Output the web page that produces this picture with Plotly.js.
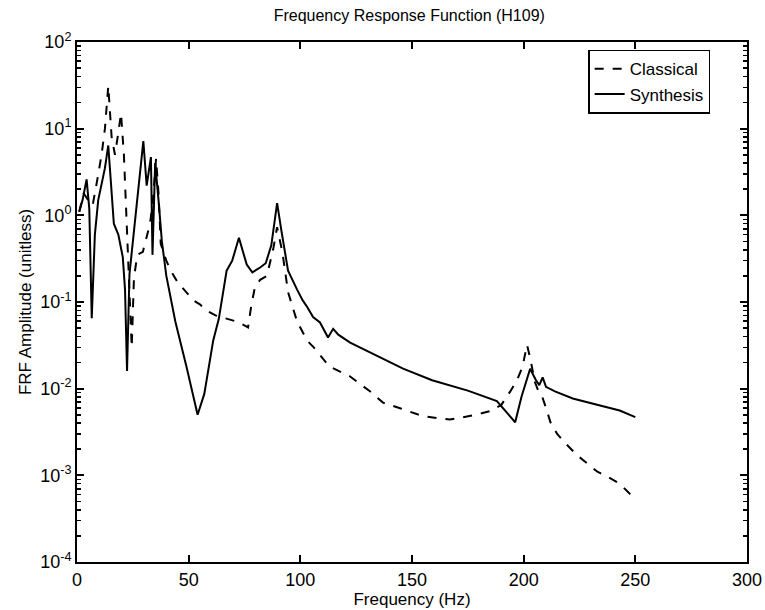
<!DOCTYPE html>
<html>
<head>
<meta charset="utf-8">
<script src="https://cdn.plot.ly/plotly-3.0.1.min.js"></script>
<style>html,body{margin:0;padding:0;background:#fff;}#chart{width:765px;height:610px;}</style>
</head>
<body>
<div id="chart"></div>
<script>
// Classical (dashed)
const classicalX = [1, 3, 5, 7, 9, 11, 12.5, 14, 15.5, 17, 18.5, 19.7, 21, 22, 23, 24.5, 25.5, 27, 29.5, 31.5, 32.7, 34, 35.4, 36.5, 37.5, 40, 42, 45, 48, 52, 55, 58, 62, 67, 72, 76.6, 78, 79.7, 82, 85, 87.8, 89.6, 92, 94.5, 98.5, 103, 106, 113, 122, 131, 137, 145, 155, 167, 177, 185, 190, 194, 197, 199.5, 201.5, 203, 205, 206.5, 208, 210, 212, 215, 219, 224, 228, 233, 237, 243, 250];
const classicalY = [1.1, 1.8, 1.5, 1.3, 2.5, 5, 10, 31, 8, 5, 9, 15, 5, 1.2, 0.2, 0.03, 0.19, 0.35, 0.38, 0.6, 0.8, 1.5, 4.5, 1.8, 0.47, 0.3, 0.23, 0.17, 0.14, 0.105, 0.094, 0.08, 0.07, 0.064, 0.059, 0.051, 0.09, 0.15, 0.18, 0.2, 0.4, 0.73, 0.37, 0.13, 0.06, 0.036, 0.03, 0.018, 0.014, 0.0094, 0.0069, 0.0059, 0.0048, 0.0044, 0.0049, 0.0055, 0.0065, 0.0093, 0.0125, 0.018, 0.032, 0.022, 0.012, 0.0095, 0.0085, 0.006, 0.0041, 0.003, 0.0023, 0.0017, 0.0014, 0.0011, 0.00098, 0.0008, 0.00053];

// Synthesis (solid)
const synthesisX = [1, 2.5, 4.3, 5.5, 6.6, 8, 9.5, 11, 12.5, 14, 15.5, 16.5, 18.5, 20.5, 21.5, 22.4, 23.5, 25, 26.5, 28, 29.7, 31.2, 33.1, 33.8, 35, 36.5, 38, 40, 44, 49, 54, 57, 61, 63.5, 67, 69.5, 72.5, 76, 78.5, 82, 84.5, 87, 89.6, 91.5, 94.5, 98.5, 101, 103, 105.7, 108.8, 112.4, 114.7, 117, 122.3, 131.2, 137, 146, 159, 175, 188, 192.6, 196.2, 199, 202.9, 205.5, 207, 208.5, 210, 214, 222, 232, 243, 250];
const synthesisY = [1.1, 1.5, 2.6, 1.2, 0.065, 0.6, 1.5, 2.2, 3.5, 6.4, 2, 0.8, 0.6, 0.33, 0.14, 0.016, 0.21, 0.5, 1.1, 2.5, 7.2, 2.2, 4.7, 0.35, 4, 1.5, 0.5, 0.2, 0.06, 0.018, 0.005, 0.0087, 0.036, 0.064, 0.23, 0.3, 0.55, 0.27, 0.22, 0.25, 0.28, 0.45, 1.38, 0.67, 0.23, 0.14, 0.105, 0.088, 0.067, 0.058, 0.039, 0.049, 0.042, 0.034, 0.026, 0.022, 0.017, 0.0125, 0.0095, 0.0072, 0.0053, 0.0041, 0.008, 0.017, 0.0125, 0.011, 0.0135, 0.0105, 0.0093, 0.0077, 0.0066, 0.0056, 0.0047];

const xTicks = [0, 50, 100, 150, 200, 250, 300];
const yExponents = [-4, -3, -2, -1, 0, 1, 2];
const yTickVals = yExponents.map(function (e) { return Math.pow(10, e); });
const yTickText = yExponents.map(function (e) { return '10<sup>' + e + '</sup>'; });

// minor log tick positions (2..9 within each decade)
const yMinor = [];
yExponents.slice(0, -1).forEach(function (d) {
  for (let m = 2; m <= 9; m++) yMinor.push(m * Math.pow(10, d));
});

const font = {family: 'Arial, "Liberation Sans", Helvetica, sans-serif', color: '#000'};

const traces = [
  {x: classicalX, y: classicalY, type: 'scatter', mode: 'lines', name: 'Classical',
   line: {color: '#000', width: 2, dash: 'dash'}, yaxis: 'y2'},
  {x: synthesisX, y: synthesisY, type: 'scatter', mode: 'lines', name: 'Synthesis',
   line: {color: '#000', width: 2}}
];

const layout = {
  width: 765, height: 610,
  margin: {l: 77, r: 18, t: 42, b: 48, autoexpand: false},
  paper_bgcolor: '#fff', plot_bgcolor: 'rgba(0,0,0,0)',
  font: Object.assign({size: 16}, font),
  title: {text: 'Frequency Response Function (H109)', x: 0.535, xanchor: 'center', y: 0.975, yanchor: 'middle',
          font: Object.assign({size: 16}, font)},
  xaxis: {
    range: [0, 300], tickmode: 'array', tickvals: xTicks, ticktext: xTicks.map(String),
    ticks: 'inside', ticklen: 7, tickwidth: 2, tickcolor: '#000',
    showline: true, linecolor: '#000', linewidth: 2, mirror: 'ticks',
    showgrid: false, zeroline: false, layer: 'above traces',
    tickfont: Object.assign({size: 18}, font),
    title: {text: 'Frequency (Hz)', standoff: 2, font: Object.assign({size: 17}, font)}
  },
  yaxis: {
    type: 'log', range: [-4, 2], tickmode: 'array', tickvals: yTickVals, ticktext: yTickText,
    ticks: 'inside', ticklen: 7, tickwidth: 2, tickcolor: '#000',
    showline: true, linecolor: '#000', linewidth: 2, mirror: 'ticks',
    showgrid: false, zeroline: false, layer: 'above traces',
    tickfont: Object.assign({size: 18}, font),
    title: {text: 'FRF Amplitude (unitless)', standoff: 4, font: Object.assign({size: 17}, font)}
  },
  yaxis2: {
    type: 'log', range: [-4, 2], overlaying: 'y', side: 'left', anchor: 'x',
    tickmode: 'array', tickvals: yMinor, showticklabels: false,
    ticks: 'inside', ticklen: 4, tickwidth: 1.5, tickcolor: '#000',
    showline: true, linecolor: '#000', linewidth: 2, mirror: 'ticks',
    showgrid: false, zeroline: false
  },
  showlegend: true,
  legend: {x: 0.945, xanchor: 'right', y: 0.985, yanchor: 'top',
           bgcolor: '#fff', bordercolor: '#000', borderwidth: 1.5,
           font: Object.assign({size: 17}, font), tracegroupgap: 0, itemwidth: 30}
};

Plotly.newPlot('chart', traces, layout, {displayModeBar: false, staticPlot: true});
</script>
</body>
</html>
